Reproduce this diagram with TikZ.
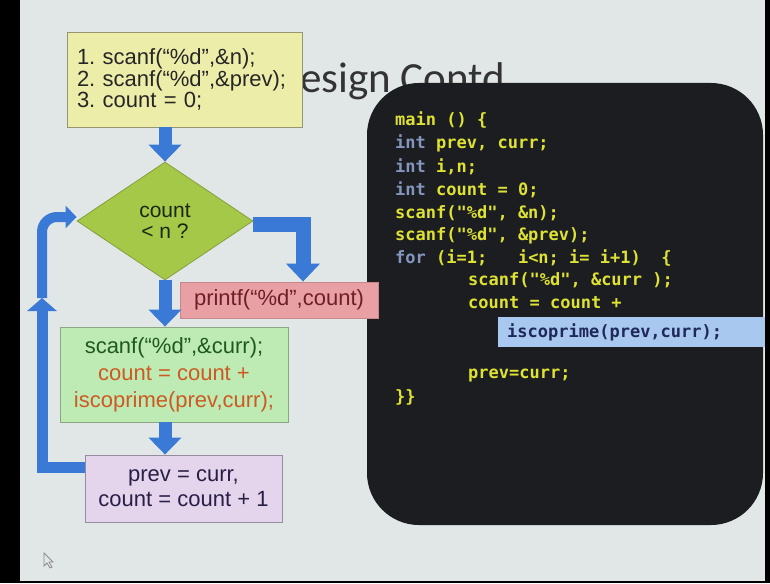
\documentclass[tikz,border=0pt]{standalone}
\usepackage{fontspec}
\setmainfont{Liberation Sans}
\newfontfamily\titlefont{Carlito}
\newfontfamily\codefont{DejaVu Sans Mono}
\usetikzlibrary{arrows.meta}
\usetikzlibrary{shapes.geometric}
\frenchspacing

\definecolor{slidebg}{RGB}{225,231,231}
\definecolor{boxyel}{RGB}{237,237,170}
\definecolor{boxgrn}{RGB}{190,234,180}
\definecolor{boxpink}{RGB}{233,160,164}
\definecolor{boxlil}{RGB}{228,213,236}
\definecolor{diagrn}{RGB}{166,200,72}
\definecolor{arrblue}{RGB}{58,122,214}
\definecolor{codebg}{RGB}{28,29,33}
\definecolor{codeyel}{RGB}{222,226,50}
\definecolor{codekey}{RGB}{132,150,190}
\definecolor{hlblue}{RGB}{168,200,240}

\tikzset{
  fbox/.style={rectangle,draw=black!45,line width=0.8pt,inner sep=0pt,align=center,
    font=\fontsize{22}{25}\selectfont},
  flow/.style={draw=arrblue,line width=13pt,-{Triangle[length=17pt,width=32pt]}},
  loopline/.style={draw=arrblue,line width=11pt},
  codeln/.style={anchor=base west,inner sep=0pt,text=codeyel,font=\codefont\bfseries\fontsize{17}{17}\selectfont}
}
\newcommand{\kw}[1]{\textcolor{codekey}{#1}}

\begin{document}
\begin{tikzpicture}[x=1pt,y=-1pt]
\useasboundingbox (0,0) rectangle (770,583);
% slide
\fill[black] (0,0) rectangle (770,583);
\fill[slidebg] (20,0) rectangle (765,581);
\node[anchor=base west,inner sep=0pt,text=black!80,font=\titlefont\fontsize{43}{43}\selectfont] (ttl) at (300,93) {\llap{D}esign Contd};
% code panel
\fill[codebg,rounded corners=52pt] (367,83) rectangle (763,525);
\node[codeln] (c1) at (395,125) {main () \{};
\node[codeln] (c2) at (395,148) {\kw{int} prev, curr;};
\node[codeln] (c3) at (395,172) {\kw{int} i,n;};
\node[codeln] (c4) at (395,195) {\kw{int} count = 0;};
\node[codeln] (c5) at (395,218) {scanf("\%d", \&n);};
\node[codeln] (c6) at (395,240) {scanf("\%d", \&prev);};
\node[codeln] (c7) at (395,263) {\kw{for} (i=1;\ \ \ i<n; i= i+1)\ \ \{};
\node[codeln] (c8) at (468,285) {scanf("\%d", \&curr );};
\node[codeln] (c9) at (468,308) {count = count +};
\node[anchor=west,fill=hlblue,minimum height=30pt,inner xsep=9pt,inner ysep=0pt,text width=249pt,align=left,
  text={rgb,255:red,30;green,40;blue,90},font=\codefont\bfseries\fontsize{17}{17}\selectfont] (c10) at (498,332) {iscoprime(prev,curr);};
\node[codeln] (c11) at (468,378) {prev=curr;};
\node[codeln] (c12) at (395,402) {\}\}};
% flow chart
\node[fbox,fill=boxyel,draw={rgb,255:red,150;green,150;blue,115},minimum width=235pt,minimum height=95pt,
  text width=215pt,align=left,text=black!85,font=\fontsize{22}{21.5}\selectfont] (ini) at (184.5,79.5)
  {1. scanf(“\%d”,\&n);\\2. scanf(“\%d”,\&prev);\\3. count = 0;};
\node[diamond,fill=diagrn,draw={rgb,255:red,130;green,160;blue,60},line width=0.8pt,aspect=1.52,
  minimum width=176pt,minimum height=118pt,inner sep=0pt,align=center,
  text={rgb,255:red,25;green,40;blue,15},font=\fontsize{21}{21}\selectfont] (dia) at (165,221) {count\\< n ?};
\node[fbox,fill=boxpink,draw=boxpink!85!black,minimum width=198pt,minimum height=36pt,
  text={rgb,255:red,110;green,30;blue,40}] (prt) at (279,300) {printf(“\%d”,count)};
\node[fbox,fill=boxgrn,draw={rgb,255:red,140;green,165;blue,130},minimum width=228pt,minimum height=95pt,
  font=\fontsize{22}{27}\selectfont] (grn) at (174,374.5)
  {\textcolor[RGB]{30,90,30}{scanf(“\%d”,\&curr);}\\\textcolor[RGB]{205,90,35}{count = count +}\\\textcolor[RGB]{205,90,35}{iscoprime(prev,curr);}};
\node[fbox,fill=boxlil,draw={rgb,255:red,150;green,140;blue,160},minimum width=197pt,minimum height=67pt,
  text={rgb,255:red,40;green,30;blue,70}] (prv) at (183.5,488.5) {prev = curr,\\count = count + 1};
% arrows
\draw[flow] (ini.south -| dia.north) -- (dia.north);
\draw[flow] (dia.south) -- (dia.south |- grn.north);
\draw[flow] (grn.south -| dia.south) -- (dia.south |- prv.north);
\draw[flow,line width=15pt,-{Triangle[length=18pt,width=33pt]}] ([yshift=-3pt]dia.east) -| ([xshift=24pt]prt.north);
\coordinate (lpt) at (42,298);
\draw[loopline,rounded corners=15pt,line width=10pt,-{Triangle[length=11pt,width=22pt]}] (lpt) |- ([yshift=4pt]dia.west);
\draw[loopline,-{Triangle[length=13pt,width=29pt]}] ([yshift=21pt]prv.west) -| (lpt);
% pointer
\draw[black!45,fill=slidebg,line width=0.8pt] (44,553) -- (44,566) -- (47,563) -- (50,568) -- (52,567) -- (49,562) -- (53,562) -- cycle;
\end{tikzpicture}
\end{document}
